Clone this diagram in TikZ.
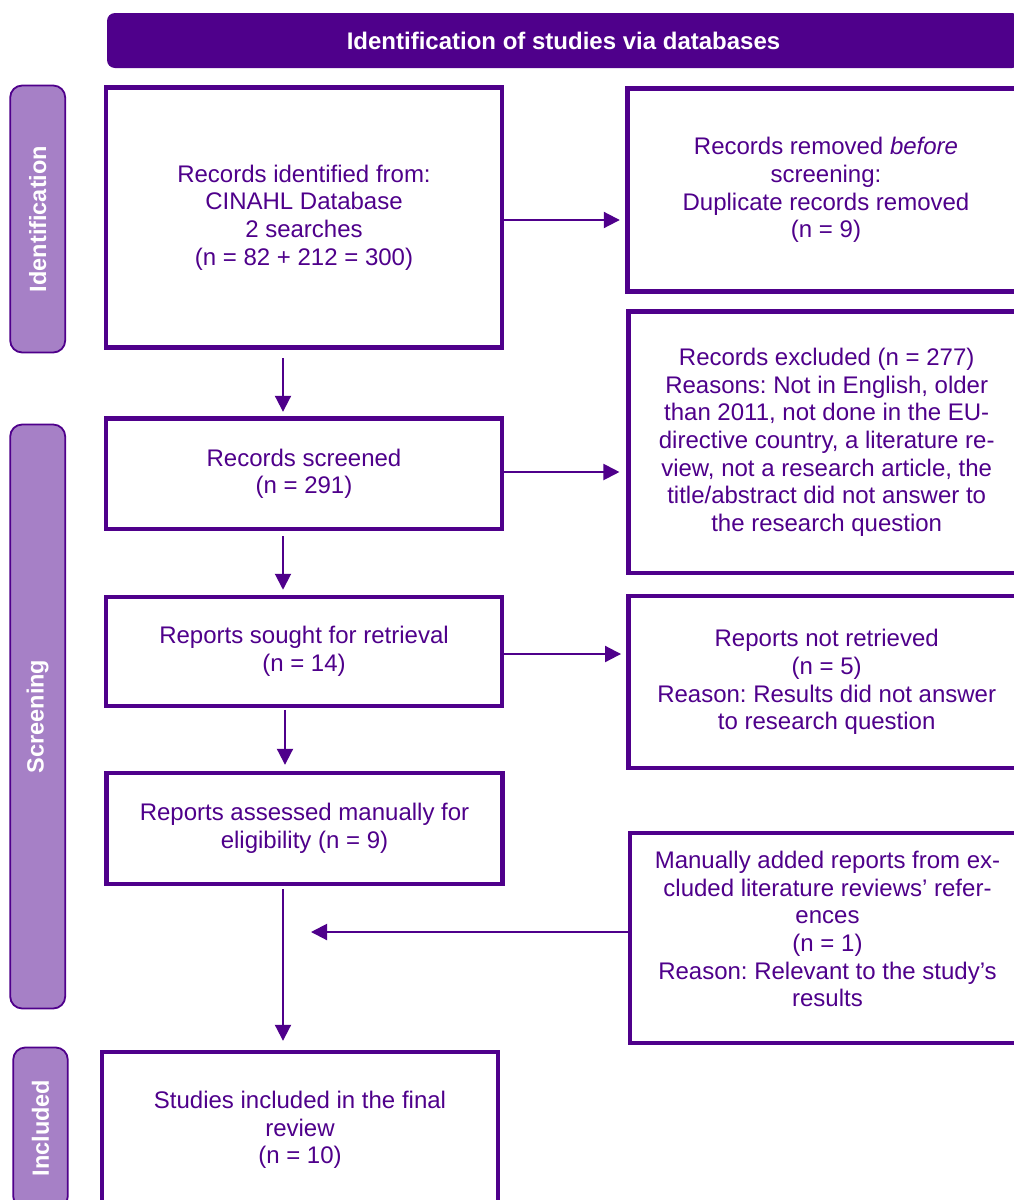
\documentclass[tikz,border=0pt]{standalone}
\usepackage{fontspec}
\setmainfont{Liberation Sans}
\usetikzlibrary{arrows.meta}
\definecolor{dpurp}{RGB}{79,0,139}
\definecolor{lpurp}{RGB}{166,128,198}
\frenchspacing
\begin{document}
\begin{tikzpicture}[x=1pt,y=-1pt,
  every node/.append style={font=\fontsize{24}{27.7}\selectfont\frenchspacing, text=dpurp},
  box/.style={draw=dpurp, line width=4.4pt, fill=white, align=center, inner sep=0pt},
  sidebar/.style={draw=dpurp, line width=1.8pt, fill=lpurp, rounded corners=12pt, inner sep=0pt,
    rotate=90, text=white, font=\fontsize{23.5}{27}\selectfont\bfseries},
  arr/.style={draw=dpurp, line width=2pt, -{Triangle[length=16pt,width=16pt]}},
]
\useasboundingbox (0,0) rectangle (1014,1200);
\fill[white] (0,0) rectangle (1014,1200);
\clip (0,0) rectangle (1014,1200);

% banner
\node[fill=dpurp, rounded corners=8pt, minimum width=913pt, minimum height=55pt, inner sep=0pt,
  text=white, font=\fontsize{24}{27}\selectfont\bfseries] (ban) at (563.5,40.5)
  {Identification of studies via databases};

% side bars
\node[sidebar, minimum width=267pt, minimum height=55pt] (sid) at (37.7,219) {Identification};
\node[sidebar, minimum width=584pt, minimum height=55pt] (scr) at (37.7,716.5) {Screening};
\node[sidebar, minimum width=161pt, minimum height=54.5pt] (inc) at (40.5,1128) {Included};

% left column
\node[box, minimum width=396pt, minimum height=260pt] (b1) at (304,217.5)
  {Records identified from:\\CINAHL Database\\2 searches\\(n = 82 + 212 = 300)};
\node[box, minimum width=396pt, minimum height=110.5pt] (b3) at (304,473.75)
  {Records screened\\(n = 291)};
\node[box, minimum width=396pt, minimum height=109.3pt] (b5) at (304,651.6)
  {Reports sought for retrieval\\(n = 14)};
\node[box, minimum width=396pt, minimum height=111pt] (b7) at (304.5,828.5)
  {Reports assessed manually for\\eligibility (n = 9)};
\node[box, minimum width=396.5pt, minimum height=156.6pt] (b9) at (300,1130)
  {Studies included in the final\\review\\(n = 10)};

% right column
\node[box, minimum width=397pt, minimum height=203pt] (b2) at (826,190)
  {Records removed \textit{before}\\screening:\\Duplicate records removed\\(n = 9)};
\node[box, minimum width=396.5pt, minimum height=261.5pt] (b4) at (826.7,442.25)
  {Records excluded (n = 277)\\Reasons: Not in English, older\\than 2011, not done in the EU-\\directive country, a literature re-\\view, not a research article, the\\title/abstract did not answer to\\the research question};
\node[box, minimum width=396.5pt, minimum height=172pt] (b6) at (826.7,682)
  {Reports not retrieved\\(n = 5)\\Reason: Results did not answer\\to research question};
\node[box, minimum width=395pt, minimum height=210.5pt] (b8) at (827.5,938) {};
\node[align=center, inner sep=0pt] (b8t) at (827.5,929)
  {Manually added reports from ex-\\cluded literature reviews’ refer-\\ences\\(n = 1)\\Reason: Relevant to the study’s\\results};

% helper coordinates
\coordinate (xa) at (283,0);
\coordinate (xb) at (285,0);
\coordinate (ya) at (0,220);
\coordinate (yb) at (0,472);
\coordinate (yc) at (0,654);
\coordinate (m) at (311,932);

% connectors
\draw[arr, shorten >=5.5pt] (b1.east |- ya) -- (b2.west |- ya);
\draw[arr, shorten <=8.5pt, shorten >=4.5pt] (b1.south -| xa) -- (b3.north -| xa);
\draw[arr, shorten >=6.8pt] (b3.east |- yb) -- (b4.west |- yb);
\draw[arr, shorten <=5pt, shorten >=5pt] (b3.south -| xa) -- (b5.north -| xa);
\draw[arr, shorten >=5.2pt] (b5.east |- yc) -- (b6.west |- yc);
\draw[arr, shorten <=1.5pt, shorten >=6pt] (b5.south -| xb) -- (b7.north -| xb);
\draw[arr, shorten <=3pt, shorten >=8.7pt] (b7.south -| xa) -- (b9.north -| xa);
\draw[arr] (b8.west |- m) -- (m);
\end{tikzpicture}
\end{document}
